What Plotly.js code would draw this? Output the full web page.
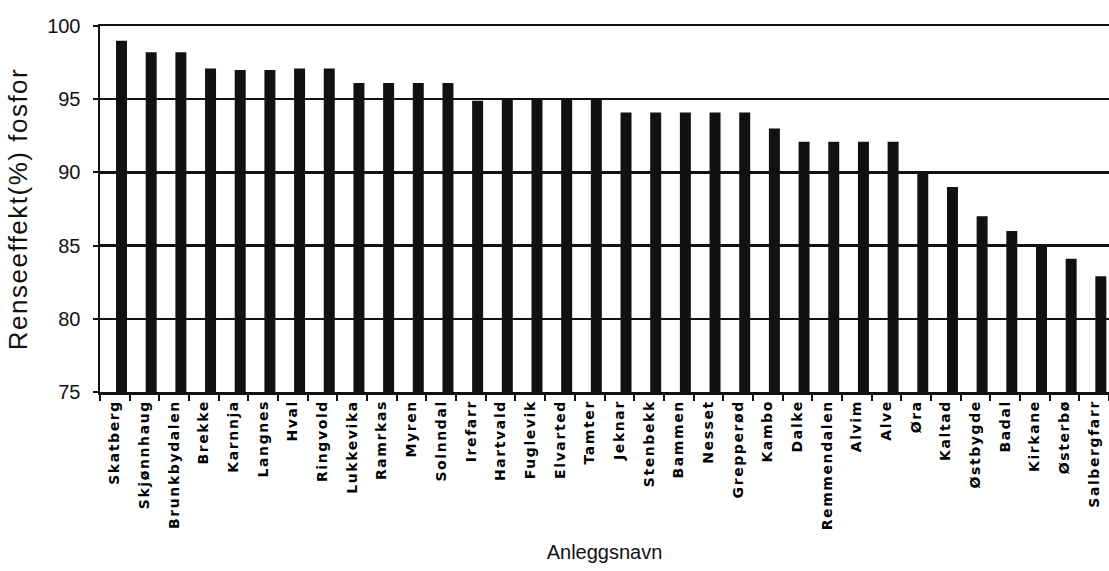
<!DOCTYPE html>
<html>
<head>
<meta charset="utf-8">
<script src="https://cdn.plot.ly/plotly-3.0.1.min.js"></script>
<style>
  html, body { margin: 0; padding: 0; background: #fff; }
  #chart { width: 1109px; height: 571px; }
  .xtick text { letter-spacing: 1.6px; }
  .g-ytitle text { letter-spacing: 1.5px; }
</style>
</head>
<body>
<div id="chart"></div>
<script>
// Plant names (Anleggsnavn) and phosphorus removal efficiency (%)
const anlegg = [
  "Skatberg", "Skjønnhaug", "Brunkbydalen", "Brekke", "Karnnja", "Langnes",
  "Hval", "Ringvold", "Lukkevika", "Ramrkas", "Myren", "Solnndal",
  "Irefarr", "Hartvald", "Fuglevik", "Elvarted", "Tamter", "Jeknar",
  "Stenbekk", "Bammen", "Nesset", "Grepperød", "Kambo", "Dalke",
  "Remmendalen", "Alvim", "Alve", "Øra", "Kaltad", "Østbygde",
  "Badal", "Kirkane", "Østerbø", "Salbergfarr"
];
const renseeffekt = [
  99.0, 98.2, 98.2, 97.1, 97.0, 97.0,
  97.1, 97.1, 96.1, 96.1, 96.1, 96.1,
  94.9, 95.0, 95.0, 95.0, 95.0, 94.1,
  94.1, 94.1, 94.1, 94.1, 93.0, 92.1,
  92.1, 92.1, 92.1, 90.0, 89.0, 87.0,
  86.0, 84.9, 84.1, 82.9
];
const yTicks = [75, 80, 85, 90, 95, 100];
const yFloor = 75;

const trace = {
  type: 'bar',
  x: anlegg,
  y: renseeffekt.map(v => v - yFloor),
  base: yFloor,
  width: 0.37,
  offset: 0.04,
  marker: { color: '#111111', line: { width: 0 } },
  hoverinfo: 'x+y'
};

const layout = {
  width: 1109,
  height: 571,
  margin: { l: 100, r: 0, t: 26, b: 179, pad: 0 },
  paper_bgcolor: '#ffffff',
  plot_bgcolor: '#ffffff',
  showlegend: false,
  font: { family: 'Liberation Sans, Arial, sans-serif', color: '#111' },
  xaxis: {
    type: 'category',
    range: [-0.5, anlegg.length - 0.5],
    tickson: 'boundaries',
    ticks: 'outside',
    ticklen: 6,
    tickwidth: 2,
    tickcolor: '#111',
    tickangle: -90,
    tickfont: { family: 'DejaVu Sans, sans-serif', size: 14, color: '#000', weight: 'bold' },
    showline: true,
    mirror: true,
    linecolor: '#111',
    linewidth: 2.5,
    showgrid: false,
    zeroline: false,
    fixedrange: true,
    automargin: false,
    title: { text: 'Anleggsnavn', font: { family: 'Liberation Sans, Arial, sans-serif', size: 20, color: '#111' }, standoff: 16 }
  },
  yaxis: {
    range: [75, 100],
    tickvals: yTicks,
    ticktext: yTicks.map(String),
    ticks: 'outside',
    ticklen: 5,
    tickwidth: 2,
    tickcolor: '#111',
    ticklabelstandoff: 8,
    tickfont: { family: 'Liberation Sans, Arial, sans-serif', size: 20, color: '#111' },
    showline: true,
    linecolor: '#111',
    linewidth: 2.5,
    showgrid: true,
    gridcolor: '#111',
    gridwidth: 2.5,
    zeroline: false,
    fixedrange: true,
    automargin: false,
    title: { text: 'Renseeffekt(%) fosfor', font: { family: 'Liberation Sans, Arial, sans-serif', size: 26, color: '#111' }, standoff: 12 }
  }
};

Plotly.newPlot('chart', [trace], layout, { staticPlot: true, displayModeBar: false });
</script>
</body>
</html>
